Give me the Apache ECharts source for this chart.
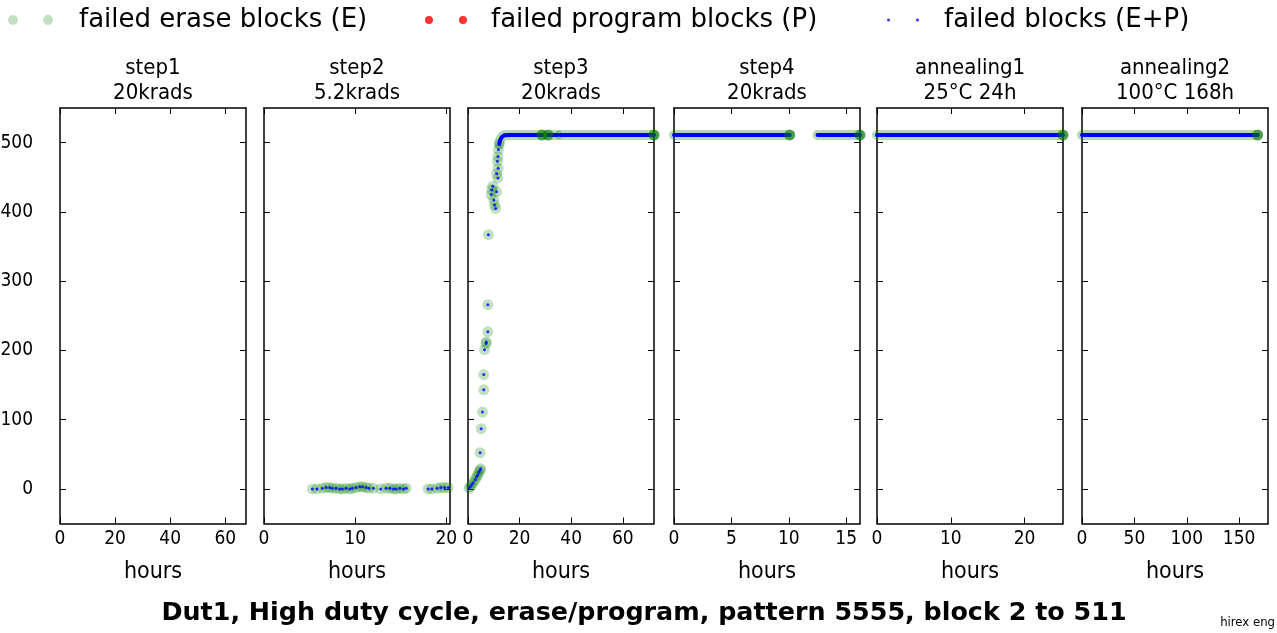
<!DOCTYPE html>
<html>
<head>
<meta charset="utf-8">
<script src="https://cdn.jsdelivr.net/npm/echarts@6/dist/echarts.min.js"></script>
<style>
  html, body { margin: 0; padding: 0; background: #fff; }
  #chart { width: 1277px; height: 633px; }
</style>
</head>
<body>
<div id="chart"></div>
<script>
const panelTitles = ['step1\n20krads', 'step2\n5.2krads', 'step3\n20krads', 'step4\n20krads', 'annealing1\n25°C 24h', 'annealing2\n100°C 168h'];
const xMax = [67.5, 20.4, 72.1, 16.2, 25.2, 177.5];
const xTicks = [[0, 20, 40, 60], [0, 10, 20], [0, 20, 40, 60], [0, 5, 10, 15], [0, 10, 20], [0, 50, 100, 150]];
const yTicks = [0, 100, 200, 300, 400, 500];

// single readings (erase failures = all failures, no program failures)
const step2Points = [[5.3, 0], [5.8, 0], [6.4, 1], [6.8, 2], [7.2, 2], [7.5, 1], [7.9, 1], [8.3, 0], [8.6, 0], [9.0, 1],
  [9.4, 0], [9.7, 1], [10.1, 2], [10.5, 3], [10.8, 3], [11.2, 2], [11.5, 1], [12.0, 1], [12.8, 0], [13.4, 1],
  [13.8, 1], [14.2, 0], [14.5, 0], [14.9, 1], [15.3, 0], [15.6, 1], [18.0, 0], [18.4, 0], [19.0, 1], [19.4, 2],
  [19.8, 2], [20.2, 2]];
const step3Points = [[0.4, 1], [0.9, 3], [1.4, 6], [2.0, 9], [2.8, 13], [3.3, 17], [3.8, 20], [4.2, 24], [4.7, 27],
  [4.9, 29], [4.7, 52], [5.1, 87], [5.6, 111], [6.1, 143], [6.1, 165], [6.4, 201], [7.0, 210], [7.1, 212],
  [7.7, 227], [7.7, 266], [7.9, 367], [10.7, 405], [10.3, 410], [10.0, 417], [9.0, 425], [11.1, 429], [9.2, 432],
  [9.6, 437], [11.6, 449], [11.1, 455], [11.7, 463], [11.4, 473], [11.6, 480], [11.8, 490], [12.1, 498]];
const programPoints = [];

// dense readings, drawn as continuous runs
const step3Runs = [[[12.1, 498], [12.5, 504], [13.1, 508], [14.0, 510.5], [16.0, 511], [28.7, 511]],
  [[31.0, 511], [34.6, 511]], [[35.7, 511], [72.1, 511]]];
const step4Runs = [[[0, 511], [10.08, 511]], [[12.5, 511], [16.2, 511]]];
const anneal1Runs = [[[0, 511], [25.2, 511]]];
const anneal2Runs = [[[0, 511], [167.6, 511]]];

// places where many readings pile up
const step3Piles = [[28.7, 511], [31.0, 511], [72.1, 511]];
const step4Piles = [[10.08, 511], [16.2, 511]];
const anneal1Piles = [[25.2, 511]];
const anneal2Piles = [[167.6, 511]];

const points = [[], step2Points, step3Points, [], [], []];
const runs = [[], [], step3Runs, step4Runs, anneal1Runs, anneal2Runs];
const piles = [[], [], step3Piles, step4Piles, anneal1Piles, anneal2Piles];

const E = 'failed erase blocks (E)';
const P = 'failed program blocks (P)';
const EP = 'failed blocks (E+P)';

const lefts = [60, 264, 468, 674, 877, 1082];
const panelW = 186;
const narrow = "'DejaVu Sans Condensed', 'Liberation Sans', sans-serif";
const green = 'rgba(0,128,0,0.3)';

const chart = echarts.init(document.getElementById('chart'));

const grids = [], xAxes = [], yAxes = [], titles = [], series = [];
const lineColor = { color: '#000', width: 1.5 };

lefts.forEach((left, i) => {
  grids.push({ left: left, top: 108, width: panelW, height: 415.5, outerBoundsMode: 'none' });

  const tick = { inside: true, length: 6, customValues: xTicks[i], lineStyle: { color: '#000' } };
  xAxes.push({
    gridIndex: i, type: 'value', position: 'bottom', min: 0, max: xMax[i],
    axisLine: { onZero: false, lineStyle: lineColor }, axisTick: tick, splitLine: { show: false },
    axisLabel: { customValues: xTicks[i], color: '#000', fontSize: 19, margin: 6, fontFamily: narrow },
    name: 'hours', nameLocation: 'middle', nameGap: 37,
    nameTextStyle: { color: '#000', fontSize: 23, fontFamily: narrow }
  });
  xAxes.push({
    gridIndex: i, type: 'value', position: 'top', min: 0, max: xMax[i],
    axisLine: { onZero: false, lineStyle: lineColor }, axisTick: tick,
    axisLabel: { show: false }, splitLine: { show: false }
  });

  const yTick = { inside: true, length: 6, customValues: yTicks, lineStyle: { color: '#000' } };
  yAxes.push({
    gridIndex: i, type: 'value', position: 'left', min: -50, max: 550,
    axisLine: { show: true, onZero: false, lineStyle: lineColor }, axisTick: yTick, splitLine: { show: false },
    axisLabel: { show: i === 0, customValues: yTicks, color: '#000', fontSize: 19, margin: 27, fontFamily: narrow }
  });
  yAxes.push({
    gridIndex: i, type: 'value', position: 'right', min: -50, max: 550,
    axisLine: { show: true, onZero: false, lineStyle: lineColor }, axisTick: yTick,
    axisLabel: { show: false }, splitLine: { show: false }
  });

  titles.push({
    text: panelTitles[i], left: left + panelW / 2, top: 56, textAlign: 'center', padding: 0,
    textStyle: { fontSize: 22, lineHeight: 25, fontWeight: 'normal', color: '#000', fontFamily: narrow }
  });

  const ax = { xAxisIndex: 2 * i, yAxisIndex: 2 * i };
  series.push(Object.assign({
    name: E, type: 'scatter', data: points[i], symbolSize: 11, itemStyle: { color: green }, z: 2
  }, ax));
  runs[i].forEach(run => series.push(Object.assign({
    name: E, type: 'line', data: run, symbol: 'none', silent: true,
    lineStyle: { width: 10, color: green, cap: 'round' }, z: 2
  }, ax)));
  series.push(Object.assign({
    name: P, type: 'scatter', data: programPoints, symbolSize: 8, itemStyle: { color: '#ff0000' }, z: 3
  }, ax));
  series.push(Object.assign({
    name: EP, type: 'scatter', data: points[i], symbolSize: 3, itemStyle: { color: '#0000ff' }, z: 4
  }, ax));
  runs[i].forEach(run => series.push(Object.assign({
    name: EP, type: 'line', data: run, symbol: 'none', silent: true,
    lineStyle: { width: 4, color: '#0000ff', cap: 'round' }, z: 4
  }, ax)));
  series.push(Object.assign({
    name: E, type: 'scatter', data: piles[i], symbolSize: 11, itemStyle: { color: 'rgba(0,115,0,0.75)' }, z: 5
  }, ax));
});

titles.push({
  text: 'Dut1, High duty cycle, erase/program, pattern 5555, block 2 to 511',
  left: 644, top: 601, textAlign: 'center', padding: 0,
  textStyle: { fontSize: 25.4, fontWeight: 'bold', color: '#000', fontFamily: 'DejaVu Sans' }
});
titles.push({
  text: 'hirex eng', right: 2, top: 616, padding: 0,
  textStyle: { fontSize: 13, fontWeight: 'normal', color: '#000', fontFamily: narrow }
});

const legendText = { fontSize: 26, color: '#000', fontFamily: 'DejaVu Sans' };
chart.setOption({
  animation: false,
  backgroundColor: '#fff',
  title: titles,
  legend: [
    {
      data: [E], left: 8, top: 7, padding: 0, itemWidth: 87, itemHeight: 10, symbolKeepAspect: true,
      icon: 'path://M0,5A5,5 0 1,1 10,5A5,5 0 1,1 0,5Z M35,5A5,5 0 1,1 45,5A5,5 0 1,1 35,5Z',
      textStyle: legendText
    },
    {
      data: [P], left: 425, top: 7, padding: 0, itemWidth: 80, itemHeight: 8, symbolKeepAspect: true,
      icon: 'path://M0,4A4,4 0 1,1 8,4A4,4 0 1,1 0,4Z M34,4A4,4 0 1,1 42,4A4,4 0 1,1 34,4Z',
      textStyle: legendText
    },
    {
      data: [EP], left: 887, top: 7, padding: 0, itemWidth: 72, itemHeight: 3, symbolKeepAspect: true,
      icon: 'path://M0,1.5A1.5,1.5 0 1,1 3,1.5A1.5,1.5 0 1,1 0,1.5Z M29,1.5A1.5,1.5 0 1,1 32,1.5A1.5,1.5 0 1,1 29,1.5Z',
      textStyle: legendText
    }
  ],
  grid: grids,
  xAxis: xAxes,
  yAxis: yAxes,
  series: series
});
</script>
</body>
</html>
